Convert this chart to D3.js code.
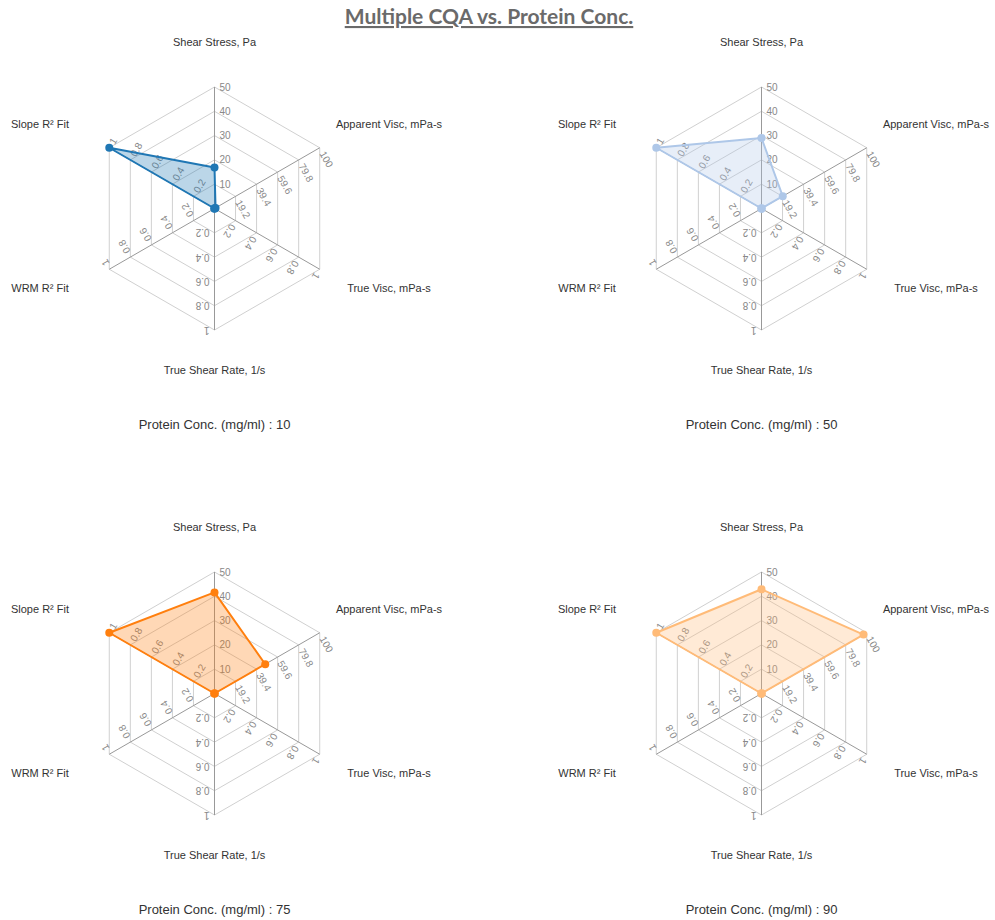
<!DOCTYPE html>
<html lang="en">
<head>
    <meta charset="UTF-8">
    <title>Multiple CQA vs. Protein Conc.</title>
    <script src="https://cdn.jsdelivr.net/npm/d3@7"></script>
    <style>
        body { margin: 0; background: #fff; }
        text { font-family: "Liberation Sans", Arial, sans-serif; }
    </style>
</head>
<body>
<svg height="920" width="995"></svg>

<script>
    // axes of each radar, clockwise from the top
    var axisNames = ["Shear Stress, Pa", "Apparent Visc, mPa-s", "True Visc, mPa-s",
        "True Shear Rate, 1/s", "WRM R\u00b2 Fit", "Slope R\u00b2 Fit"];
    var axisDomains = [[0, 50], [-1, 100], [0, 1], [0, 1], [0, 1], [0, 1]];
    var axisTicks = [
        [10, 20, 30, 40, 50],
        [19.2, 39.4, 59.6, 79.8, 100],
        [0.2, 0.4, 0.6, 0.8, 1],
        [0.2, 0.4, 0.6, 0.8, 1],
        [0.2, 0.4, 0.6, 0.8, 1],
        [0.2, 0.4, 0.6, 0.8, 1]
    ];

    // one panel per protein concentration
    var proteinConc = [10, 50, 75, 90];
    var shearStress = [16.9, 29.0, 41.6, 42.9];
    var apparentVisc = [0, 19.4, 47.7, 96.9];
    var trueVisc = [0, 0, 0, 0];
    var trueShearRate = [0, 0, 0, 0];
    var wrmFit = [0, 0, 0, 0];
    var slopeFit = [1, 1, 1, 1];
    var colors = ["#1f77b4", "#aec7e8", "#ff7f0e", "#ffbb78"];

    var svg = d3.select('svg');
    var R = 121.5;
    var centers = [[214.5, 208.5], [761.5, 208.5], [214.5, 693.5], [761.5, 693.5]];

    // title
    svg.append('text').attr('x', 489).attr('y', 24).attr('text-anchor', 'middle')
        .style('font-family', 'Lato, "Open Sans", sans-serif').style('font-weight', 'bold')
        .style('font-size', '21px').style('fill', '#6a6a6a').style('text-decoration', 'underline')
        .text('Multiple CQA vs. Protein Conc.');

    var scales = axisDomains.map(function (d) {
        return d3.scaleLinear().domain(d).range([0, R]);
    });
    var angle = function (i) { return i * Math.PI / 3; };
    // point on axis i at distance r from the centre
    var pos = function (i, r) {
        return [r * Math.sin(angle(i)), -r * Math.cos(angle(i))];
    };

    proteinConc.forEach(function (pc, p) {
        var g = svg.append('g').attr('transform', 'translate(' + centers[p][0] + ',' + centers[p][1] + ')');
        var values = [shearStress[p], apparentVisc[p], trueVisc[p], trueShearRate[p], wrmFit[p], slopeFit[p]];

        // hexagon grid, one ring per tick
        d3.range(1, 6).forEach(function (k) {
            var ring = axisNames.map(function (n, i) { return pos(i, scales[i](axisTicks[i][k - 1])); });
            g.append('path').attr('d', d3.line()(ring) + 'Z')
                .attr('fill', 'none').attr('stroke', '#d0d0d0').attr('stroke-width', 1);
        });

        // radial axes
        axisNames.forEach(function (n, i) {
            var end = pos(i, R);
            g.append('line').attr('x1', 0).attr('y1', 0).attr('x2', end[0]).attr('y2', end[1])
                .attr('stroke', '#999').attr('stroke-width', 1);

            // tick labels, turned along the axis
            var deg = i * 60;
            axisTicks[i].forEach(function (t) {
                var pt = pos(i, scales[i](t));
                g.append('text')
                    .attr('transform', 'translate(' + pt[0] + ',' + pt[1] + ') rotate(' + deg + ')')
                    .attr('x', 5).attr('dy', '0.35em')
                    .style('font-size', '10px').style('fill', '#888')
                    .text(t);
            });

            // axis name
            g.append('text')
                .attr('x', 201.5 * Math.sin(angle(i)))
                .attr('y', -164 * Math.cos(angle(i)) - 2)
                .attr('dy', '0.35em').attr('text-anchor', 'middle')
                .style('font-size', '11px').style('fill', '#333')
                .text(n);
        });

        // series polygon
        var pts = values.map(function (v, i) { return pos(i, scales[i](v)); });
        g.append('path').attr('d', d3.line()(pts) + 'Z')
            .attr('fill', colors[p]).attr('fill-opacity', 0.3)
            .attr('stroke', colors[p]).attr('stroke-width', 2).attr('stroke-linejoin', 'round');
        g.selectAll('circle.pt').data(pts).enter().append('circle')
            .attr('class', 'pt')
            .attr('cx', function (d) { return d[0]; })
            .attr('cy', function (d) { return d[1]; })
            .attr('r', 4).attr('fill', colors[p]);

        // panel caption
        g.append('text').attr('x', 0).attr('y', 216).attr('dy', '0.35em').attr('text-anchor', 'middle')
            .style('font-size', '13px').style('fill', '#333')
            .text('Protein Conc. (mg/ml) : ' + pc);
    });
</script>
</body>
</html>
